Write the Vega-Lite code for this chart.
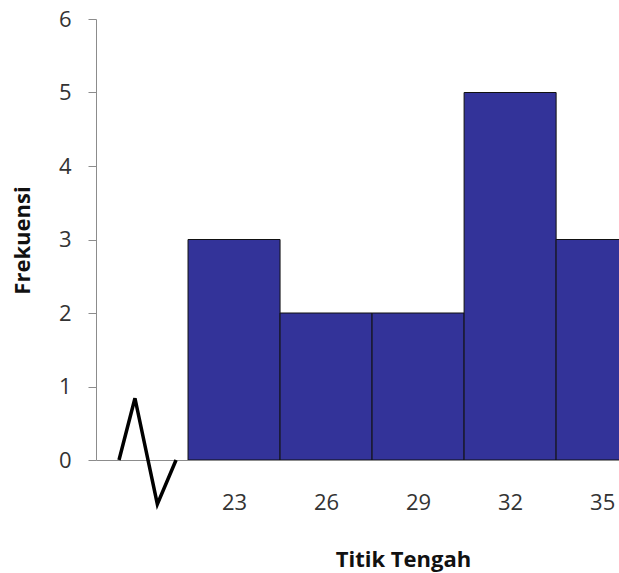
{
  "$schema": "https://vega.github.io/schema/vega-lite/v6.json",
  "width": 523,
  "height": 441,
  "autosize": {"type": "none"},
  "padding": {"left": 96, "top": 19, "right": 0, "bottom": 113},
  "background": "white",
  "config": {
    "view": {"stroke": null},
    "font": "Open Sans",
    "axis": {"grid": false, "domainColor": "#8c8c8c", "tickColor": "#8c8c8c", "labelColor": "#333333", "labelFont": "Open Sans", "titleFont": "Open Sans", "titleColor": "#111111"}
  },
  "datasets": {
    "kelas": [
      {"titik": 23, "bawah": 21.5, "atas": 24.5, "frekuensi": 3},
      {"titik": 26, "bawah": 24.5, "atas": 27.5, "frekuensi": 2},
      {"titik": 29, "bawah": 27.5, "atas": 30.5, "frekuensi": 2},
      {"titik": 32, "bawah": 30.5, "atas": 33.5, "frekuensi": 5},
      {"titik": 35, "bawah": 33.5, "atas": 36.5, "frekuensi": 3}
    ],
    "patahan": [
      {"x": 19.25, "y": 0},
      {"x": 19.77, "y": 0.84},
      {"x": 20.5, "y": -0.6},
      {"x": 21.11, "y": 0}
    ]
  },
  "layer": [
    {
      "data": {"name": "kelas"},
      "mark": {"type": "bar", "color": "#333399", "stroke": "#111111", "strokeWidth": 1, "clip": true},
      "encoding": {
        "x": {"field": "bawah", "type": "quantitative",
          "scale": {"domain": [18.5, 35.55], "nice": false, "zero": false},
          "axis": {"values": [23, 26, 29, 32, 35], "ticks": false, "labelPadding": 32, "labelFontSize": 22, "title": "Titik Tengah", "titleFontSize": 22, "titleFontWeight": "bold", "titleX": 307, "titleY": 89, "titleAlign": "center", "labelFlush": false}},
        "x2": {"field": "atas"},
        "y": {"field": "frekuensi", "type": "quantitative",
          "scale": {"domain": [0, 6], "nice": false},
          "axis": {"values": [0, 1, 2, 3, 4, 5, 6], "format": "d", "tickSize": 8, "labelPadding": 17, "labelFontSize": 22, "title": "Frekuensi", "titleFontSize": 22, "titleFontWeight": "bold", "titleX": -74, "titleY": 221, "titleAngle": 270, "titleAlign": "center", "titleBaseline": "middle"}},
        "y2": {"datum": 0}
      }
    },
    {
      "data": {"name": "patahan"},
      "mark": {"type": "line", "color": "#000000", "strokeWidth": 3.5, "clip": false},
      "encoding": {
        "x": {"field": "x", "type": "quantitative"},
        "y": {"field": "y", "type": "quantitative"}
      }
    }
  ]
}
